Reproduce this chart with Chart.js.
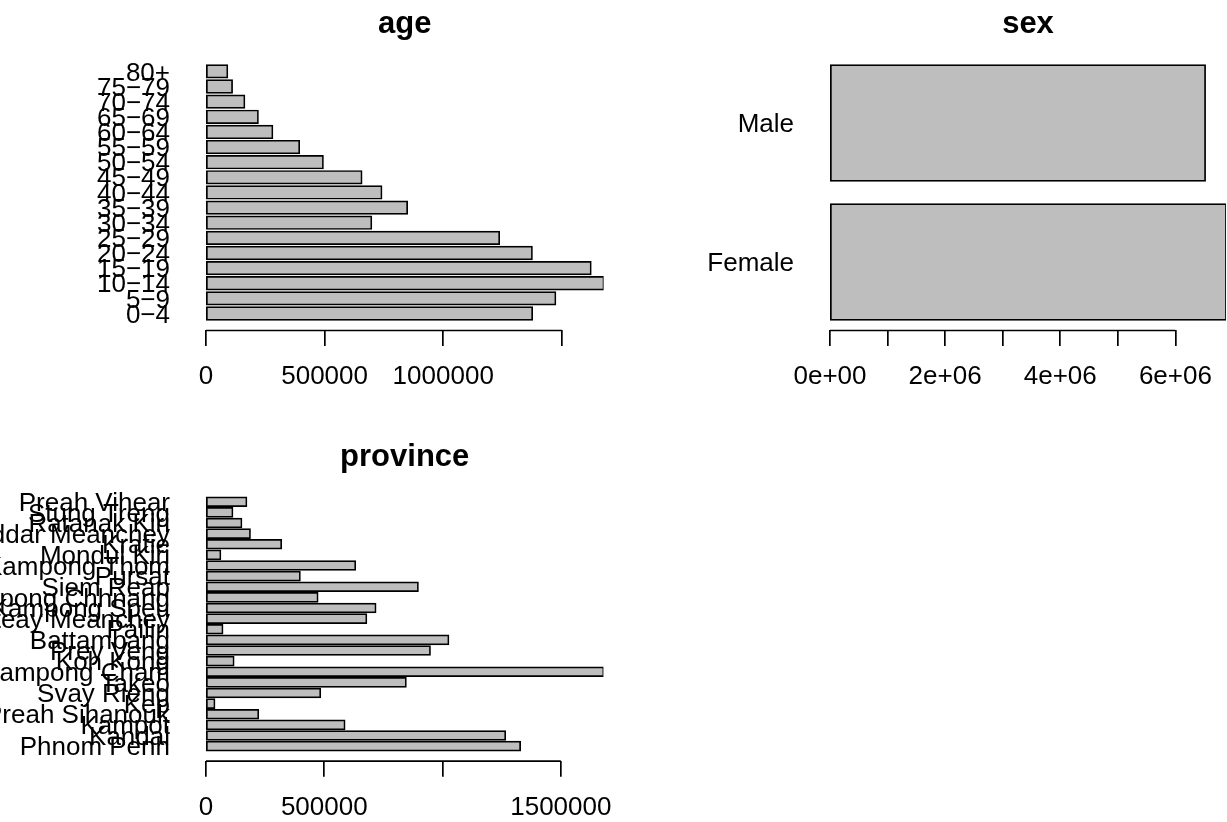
<!DOCTYPE html>
<html lang="en">
<head>
<meta charset="UTF-8" />
<script src="https://cdn.jsdelivr.net/npm/chart.js@4.4.1/dist/chart.umd.min.js"></script>
<title>Cambodia population barplots</title>
<style>
  body { margin: 0; background: #fff; }
  #wrap { position: relative; width: 1227px; height: 822px; overflow: hidden; }
  canvas { position: absolute; }
</style>
</head>
<body>
<div id="wrap">
  <canvas id="age" width="613" height="411" style="left:0;top:0"></canvas>
  <canvas id="sex" width="614" height="411" style="left:613px;top:0"></canvas>
  <canvas id="province" width="613" height="411" style="left:0;top:411px"></canvas>
</div>
<script>
// bottom bar first, as in R's barplot(horiz = TRUE)
var ageGroups = ['0\u22124', '5\u22129', '10\u221214', '15\u221219', '20\u221224', '25\u221229', '30\u221234',
  '35\u221239', '40\u221244', '45\u221249', '50\u221254', '55\u221259', '60\u221264', '65\u221269',
  '70\u221274', '75\u221279', '80+'];
var agePop = [1375000, 1473000, 1676000, 1622000, 1374000, 1236000, 697000, 848000, 740000,
  656000, 493000, 393000, 280000, 219000, 162000, 110000, 90000];

var sexGroups = ['Female', 'Male'];
var sexPop = [6879000, 6516000];

var provinces = ['Phnom Penh', 'Kandal', 'Kampot', 'Preah Sihanouk', 'Kep', 'Svay Rieng', 'Takeo',
  'Kampong Cham', 'Koh Kong', 'Prey Veng', 'Battambang', 'Pailin', 'Banteay Meanchey',
  'Kampong Speu', 'Kampong Chhnang', 'Siem Reap', 'Pursat', 'Kampong Thom', 'Mondul Kiri',
  'Kratie', 'Oddar Meanchey', 'Ratanak Kiri', 'Stung Treng', 'Preah Vihear'];
var provincePop = [1328000, 1265000, 586000, 221000, 36000, 483000, 845000, 1680000, 117000,
  947000, 1025000, 70000, 678000, 717000, 472000, 896000, 397000, 631000, 61000, 318000,
  186000, 150000, 112000, 171000];

var ageTicks = [0, 500000, 1000000, 1500000];
var ageTickLabels = ['0', '500000', '1000000', ''];
var sexTicks = [0, 1000000, 2000000, 3000000, 4000000, 5000000, 6000000];
var sexTickLabels = ['0e+00', '', '2e+06', '', '4e+06', '', '6e+06'];
var provinceTicks = [0, 500000, 1000000, 1500000];
var provinceTickLabels = ['0', '500000', '', '1500000'];

Chart.defaults.font.family = "'Liberation Sans', Arial, Helvetica, sans-serif";
Chart.defaults.color = '#000';

var LABEL_SIZE = 26;
var TITLE_SIZE = 31;
var LINE_W = 1.7;

// title over the plot region and axis line from first to last tick, R style
var rBits = {
  id: 'rBits',
  afterDraw: function (chart, args, opts) {
    var ctx = chart.ctx, area = chart.chartArea, x = chart.scales.x;
    var t = x.ticks;
    ctx.save();
    ctx.strokeStyle = '#000';
    ctx.lineWidth = LINE_W;
    ctx.beginPath();
    ctx.moveTo(x.getPixelForValue(t[0].value), area.bottom + 0.5);
    ctx.lineTo(x.getPixelForValue(t[t.length - 1].value), area.bottom + 0.5);
    ctx.stroke();
    ctx.fillStyle = '#000';
    ctx.font = 'bold ' + TITLE_SIZE + "px 'Liberation Sans', Arial, sans-serif";
    ctx.textAlign = 'center';
    ctx.textBaseline = 'alphabetic';
    ctx.fillText(opts.text, (area.left + area.right) / 2, area.top - 21.5);
    ctx.restore();
  }
};

function barplot(id, title, names, values, ticks, tickLabels, box) {
  // R: bars of width 1 with space 0.2, ylim padded by 4%
  var n = names.length;
  var lo = 0.2, hi = 1.2 * n, pad = 0.04 * (hi - lo);
  var pts = values.map(function (v, i) { return { x: v, y: 0.7 + 1.2 * i }; });
  var centers = pts.map(function (p) { return p.y; });

  return new Chart(document.getElementById(id), {
    type: 'bar',
    data: {
      datasets: [{
        data: pts,
        backgroundColor: '#bebebe',
        borderColor: '#000',
        borderWidth: LINE_W,
        borderSkipped: false,
        inflateAmount: LINE_W / 2,   // R strokes the outline on the edge, not inside
        barPercentage: 1 / 1.2,
        categoryPercentage: 1
      }]
    },
    plugins: [rBits],
    options: {
      indexAxis: 'y',
      responsive: false,
      animation: false,
      layout: { padding: { left: 0, right: box.right, top: box.top, bottom: 0 } },
      plugins: {
        legend: { display: false },
        tooltip: { enabled: false },
        rBits: { text: title }
      },
      scales: {
        x: {
          type: 'linear',
          min: 0,
          max: Math.max.apply(null, values),
          offset: false,
          border: { display: false },
          grid: { drawOnChartArea: false, drawTicks: true, tickLength: 16, color: '#000', lineWidth: LINE_W },
          ticks: {
            autoSkip: false, maxRotation: 0, padding: 15.5,
            font: { size: LABEL_SIZE },
            callback: function (v, i) { return tickLabels[i]; }
          },
          afterBuildTicks: function (s) { s.ticks = ticks.map(function (v) { return { value: v }; }); },
          afterFit: function (s) { s.height = box.axis; s.paddingLeft = 0; s.paddingRight = 0; }
        },
        y: {
          type: 'linear',
          min: lo - pad,
          max: hi + pad,
          offset: false,
          border: { display: false },
          grid: { display: false, drawTicks: false, offset: false },
          ticks: {
            autoSkip: false, padding: 36, labelOffset: 2,
            font: { size: LABEL_SIZE },
            callback: function (v, i) { return names[i]; }
          },
          afterBuildTicks: function (s) { s.ticks = centers.map(function (v) { return { value: v }; }); },
          afterFit: function (s) { s.width = box.left; s.paddingTop = 0; s.paddingBottom = 0; }
        }
      }
    }
  });
}

barplot('age', 'age', ageGroups, agePop, ageTicks, ageTickLabels,
  { left: 206, right: 9.4, top: 54.9, axis: 81 });
barplot('sex', 'sex', sexGroups, sexPop, sexTicks, sexTickLabels,
  { left: 217, right: 1, top: 54.9, axis: 81 });
barplot('province', 'province', provinces, provincePop, provinceTicks, provinceTickLabels,
  { left: 206, right: 9.6, top: 76.2, axis: 61.3 });
</script>
</body>
</html>
